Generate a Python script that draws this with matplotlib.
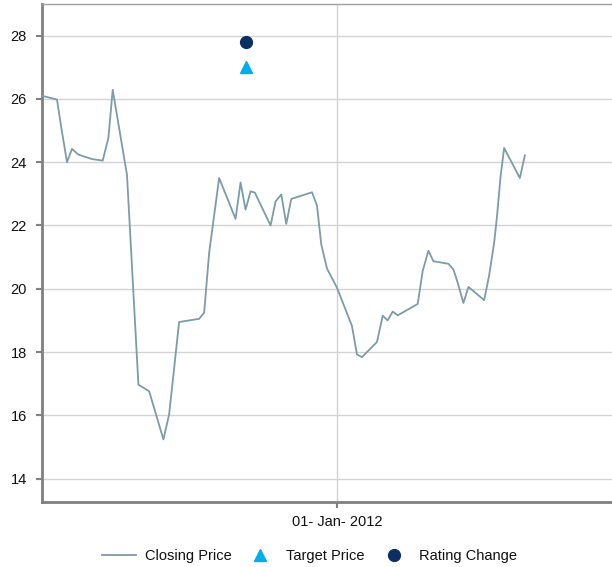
import numpy as np
import pandas as pd
import matplotlib
matplotlib.use("Agg")
from matplotlib import pyplot as plt
import matplotlib.dates as mdates
from matplotlib.lines import Line2D

plt.rcParams['font.family'] = ['Liberation Sans', 'DejaVu Sans']

# weekly closing prices
close_dates = [
    "2010-11-14", "2010-12-05", "2010-12-11", "2010-12-19", "2010-12-26",
    "2011-01-04", "2011-01-23", "2011-02-07", "2011-02-15", "2011-02-21",
    "2011-03-13", "2011-03-29", "2011-04-13", "2011-05-03", "2011-05-11",
    "2011-05-25", "2011-06-22", "2011-06-29", "2011-07-06", "2011-07-20",
    "2011-08-12", "2011-08-19", "2011-08-26", "2011-09-02", "2011-09-08",
    "2011-09-30", "2011-10-07", "2011-10-15", "2011-10-22", "2011-10-29",
    "2011-11-27", "2011-12-04", "2011-12-10", "2011-12-18", "2012-01-01",
    "2012-01-12", "2012-01-22", "2012-01-29", "2012-02-05", "2012-02-26",
    "2012-03-05", "2012-03-12", "2012-03-19", "2012-03-26", "2012-04-23",
    "2012-04-30", "2012-05-08", "2012-05-15", "2012-06-05", "2012-06-12",
    "2012-06-18", "2012-06-26", "2012-07-03", "2012-07-25", "2012-08-01",
    "2012-08-08", "2012-08-12", "2012-08-17", "2012-08-22", "2012-09-13",
    "2012-09-20",
]
close_prices = [
    26.10, 25.98, 25.10, 24.00, 24.42,
    24.24, 24.10, 24.05, 24.77, 26.29,
    23.60, 16.97, 16.76, 15.24, 16.03,
    18.95, 19.05, 19.24, 21.13, 23.50,
    22.21, 23.36, 22.50, 23.08, 23.04,
    22.00, 22.76, 22.98, 22.05, 22.84,
    23.05, 22.63, 21.40, 20.64, 20.03,
    19.40, 18.82, 17.92, 17.84, 18.32,
    19.15, 19.00, 19.28, 19.16, 19.52,
    20.57, 21.20, 20.87, 20.79, 20.61,
    20.19, 19.55, 20.06, 19.64, 20.42,
    21.45, 22.29, 23.55, 24.45, 23.50,
    24.22,
]

target_dates = ["2011-08-26"]
target_prices = [27.0]

rating_dates = ["2011-08-26"]
rating_values = [27.81]

x_ticks = ["2012-01-01"]
x_tick_labels = ["01- Jan- 2012"]
y_ticks = [14, 16, 18, 20, 22, 24, 26, 28]

line_color = '#7b9ca8'
target_color = '#00aeef'
rating_color = '#0b2f63'
spine_color = '#808080'
grid_color = '#d3d3d3'

fig = plt.figure(figsize=(6.12, 5.67), dpi=100)
ax = fig.add_axes([0.0686, 0.1146, 0.9314, 0.8783])

ax.plot(pd.to_datetime(close_dates), close_prices, color=line_color, lw=1.3,
        zorder=3)
ax.plot(pd.to_datetime(target_dates), target_prices, linestyle='none',
        marker='^', ms=9, color=target_color, zorder=4)
ax.plot(pd.to_datetime(rating_dates), rating_values, linestyle='none',
        marker='o', ms=8.5, color=rating_color, zorder=4)

ax.set_xlim(pd.Timestamp("2010-11-14"), pd.Timestamp("2013-01-20"))
ax.set_ylim(13.26, 29.0)

ax.set_xticks(pd.to_datetime(x_ticks))
ax.set_xticklabels(x_tick_labels)
ax.set_yticks(y_ticks)

ax.grid(True, color=grid_color, lw=1.0, zorder=0)
ax.set_axisbelow(True)

for side in ['left', 'bottom']:
    ax.spines[side].set_color(spine_color)
    ax.spines[side].set_linewidth(2.0)
ax.spines['top'].set_color('#a0a0a0')
ax.spines['top'].set_linewidth(1.0)
ax.spines['right'].set_visible(False)

ax.tick_params(axis='y', length=4.5, width=1.5, color=spine_color, pad=6.5,
               labelsize=10.5, labelcolor='#111111')
ax.tick_params(axis='x', length=4.5, width=1.5, color=spine_color, pad=5,
               labelsize=10.5, labelcolor='#111111')

handles = [
    Line2D([], [], color=line_color, lw=1.3),
    Line2D([], [], linestyle='none', marker='^', ms=9, color=target_color),
    Line2D([], [], linestyle='none', marker='o', ms=8.5, color=rating_color),
]
labels = ['Closing Price', 'Target Price', 'Rating Change']
fig.legend(handles, labels, loc='center', bbox_to_anchor=(0.506, 0.019),
           ncol=3, frameon=False, fontsize=10.5, handlelength=2.35,
           columnspacing=0.8, handletextpad=0.6, labelcolor='#111111')

fig.savefig('out.png', dpi=100)
